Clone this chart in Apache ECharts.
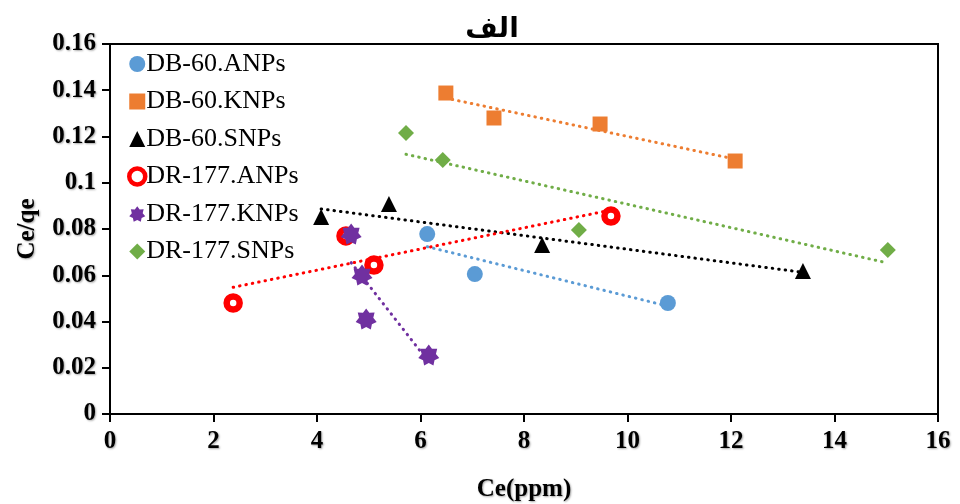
<!DOCTYPE html>
<html>
<head>
<meta charset="utf-8">
<script src="https://cdn.jsdelivr.net/npm/echarts@6/dist/echarts.min.js"></script>
<style>
  html, body { margin: 0; padding: 0; background: #fff; }
  #chart { width: 960px; height: 504px; }
</style>
</head>
<body>
<div id="chart"></div>
<script>
// Ce (ppm) vs Ce/qe for each adsorbent/dye pair
const seriesNames = ['DB-60.ANPs', 'DB-60.KNPs', 'DB-60.SNPs', 'DR-177.ANPs', 'DR-177.KNPs', 'DR-177.SNPs'];

const db60ANPs = [[6.13, 0.0778], [7.05, 0.0605], [10.78, 0.0480]];
const db60KNPs = [[6.49, 0.1388], [7.42, 0.1280], [9.47, 0.1254], [12.08, 0.1094]];
const db60SNPs = [[4.08, 0.0852], [5.39, 0.0908], [8.35, 0.0731], [13.39, 0.0618]];
const dr177ANPs = [[2.38, 0.0480], [4.56, 0.0770], [5.10, 0.0644], [9.68, 0.0856]];
const dr177KNPs = [[4.66, 0.0778], [4.87, 0.0601], [4.95, 0.0411], [6.16, 0.0255]];
const dr177SNPs = [[5.72, 0.1215], [6.43, 0.1098], [9.06, 0.0796], [15.03, 0.0709]];

const xTicks = [0, 2, 4, 6, 8, 10, 12, 14, 16];
const yTicks = [0, 0.02, 0.04, 0.06, 0.08, 0.1, 0.12, 0.14, 0.16];

const seriesData = [db60ANPs, db60KNPs, db60SNPs, dr177ANPs, dr177KNPs, dr177SNPs];
const colors = ['#5b9bd5', '#ed7d31', '#000000', '#ff0000', '#7030a0', '#70ad47'];

// least-squares linear trend over the span of the points
function trend(points) {
  const n = points.length;
  let sx = 0, sy = 0, sxx = 0, sxy = 0;
  points.forEach(([x, y]) => { sx += x; sy += y; sxx += x * x; sxy += x * y; });
  const b = (n * sxy - sx * sy) / (n * sxx - sx * sx);
  const a = (sy - b * sx) / n;
  const xs = points.map(p => p[0]);
  const x0 = Math.min(...xs), x1 = Math.max(...xs);
  return [[x0, a + b * x0], [x1, a + b * x1]];
}

function starPath(n, ro, ri) {
  let d = '';
  for (let i = 0; i < 2 * n; i++) {
    const r = i % 2 === 0 ? ro : ri;
    const ang = -Math.PI / 2 + i * Math.PI / n;
    const x = (50 + r * Math.cos(ang)).toFixed(2);
    const y = (50 + r * Math.sin(ang)).toFixed(2);
    d += (i === 0 ? 'M' : 'L') + x + ' ' + y + ' ';
  }
  return 'path://' + d + 'Z';
}

const markerStyles = [
  { symbol: 'circle', symbolSize: 16, itemStyle: { color: colors[0], opacity: 1 } },
  { symbol: 'rect', symbolSize: 15, itemStyle: { color: colors[1], opacity: 1 } },
  { symbol: 'triangle', symbolSize: 16, itemStyle: { color: colors[2], opacity: 1 } },
  { symbol: 'circle', symbolSize: 13, itemStyle: { color: '#ffffff', borderColor: colors[3], borderWidth: 6.5, opacity: 1 } },
  { symbol: starPath(7, 50, 34), symbolSize: 21, itemStyle: { color: colors[4], opacity: 1 } },
  { symbol: 'diamond', symbolSize: 16, itemStyle: { color: colors[5], opacity: 1 } }
];

const fontFamily = '"Liberation Serif", "Times New Roman", serif';
const labelShadow = { textShadowColor: 'rgba(0,0,0,0.35)', textShadowBlur: 2, textShadowOffsetX: 1, textShadowOffsetY: 1 };

const series = [];
seriesData.forEach((pts, i) => {
  series.push({
    name: seriesNames[i] + ' trend',
    type: 'line',
    data: trend(pts),
    showSymbol: false,
    silent: true,
    z: 1,
    lineStyle: { color: colors[i], width: 3, type: [0.5, 6], cap: 'round' }
  });
});
seriesData.forEach((pts, i) => {
  series.push(Object.assign({
    name: seriesNames[i],
    type: 'scatter',
    data: pts,
    z: 3
  }, markerStyles[i]));
});

const legendData = seriesNames.map((name, i) => {
  if (i === 3) {
    return { name: name, itemStyle: { color: '#ffffff', borderColor: colors[3], borderWidth: 4.5 } };
  }
  return { name: name };
});

const chart = echarts.init(document.getElementById('chart'), null, { renderer: 'canvas' });
chart.setOption({
  animation: false,
  backgroundColor: '#ffffff',
  title: {
    text: 'الف',
    left: 487,
    textAlign: 'center',
    top: 11,
    textStyle: { fontFamily: '"DejaVu Sans", sans-serif', fontWeight: 'bold', fontSize: 28, color: '#000' }
  },
  legend: {
    data: legendData,
    orient: 'vertical',
    left: 122,
    top: 46,
    itemWidth: 16,
    itemHeight: 16,
    itemGap: 11.5,
    textStyle: { fontFamily: fontFamily, fontSize: 26, lineHeight: 26, color: '#000', padding: [0, 0, 0, -4] }
  },
  grid: {
    left: 110, right: 22, top: 44, bottom: 90,
    containLabel: false,
    outerBoundsMode: 'none',
    show: true, borderColor: '#000', borderWidth: 2, backgroundColor: 'transparent'
  },
  xAxis: {
    type: 'value',
    min: xTicks[0],
    max: xTicks[xTicks.length - 1],
    interval: xTicks[1] - xTicks[0],
    name: 'Ce(ppm)',
    nameLocation: 'middle',
    nameGap: 63,
    nameTextStyle: Object.assign({ fontFamily: fontFamily, fontWeight: 'bold', fontSize: 25, color: '#000' }, labelShadow),
    axisLine: { show: true, lineStyle: { color: '#000', width: 2 } },
    axisTick: { show: true, inside: false, length: 8, lineStyle: { color: '#000', width: 2 } },
    axisLabel: Object.assign({ fontFamily: fontFamily, fontWeight: 'bold', fontSize: 25, color: '#000', margin: 15 }, labelShadow),
    splitLine: { show: false }
  },
  yAxis: {
    type: 'value',
    min: yTicks[0],
    max: yTicks[yTicks.length - 1],
    interval: 0.02,
    name: 'Ce/qe',
    nameLocation: 'middle',
    nameGap: 70,
    nameTextStyle: Object.assign({ fontFamily: fontFamily, fontWeight: 'bold', fontSize: 25, color: '#000' }, labelShadow),
    axisLine: { show: true, lineStyle: { color: '#000', width: 2 } },
    axisTick: { show: true, inside: false, length: 8, lineStyle: { color: '#000', width: 2 } },
    axisLabel: Object.assign({ fontFamily: fontFamily, fontWeight: 'bold', fontSize: 25, color: '#000', margin: 14,
      formatter: v => String(parseFloat(v.toFixed(2))) }, labelShadow),
    splitLine: { show: false }
  },
  series: series
});
</script>
</body>
</html>
